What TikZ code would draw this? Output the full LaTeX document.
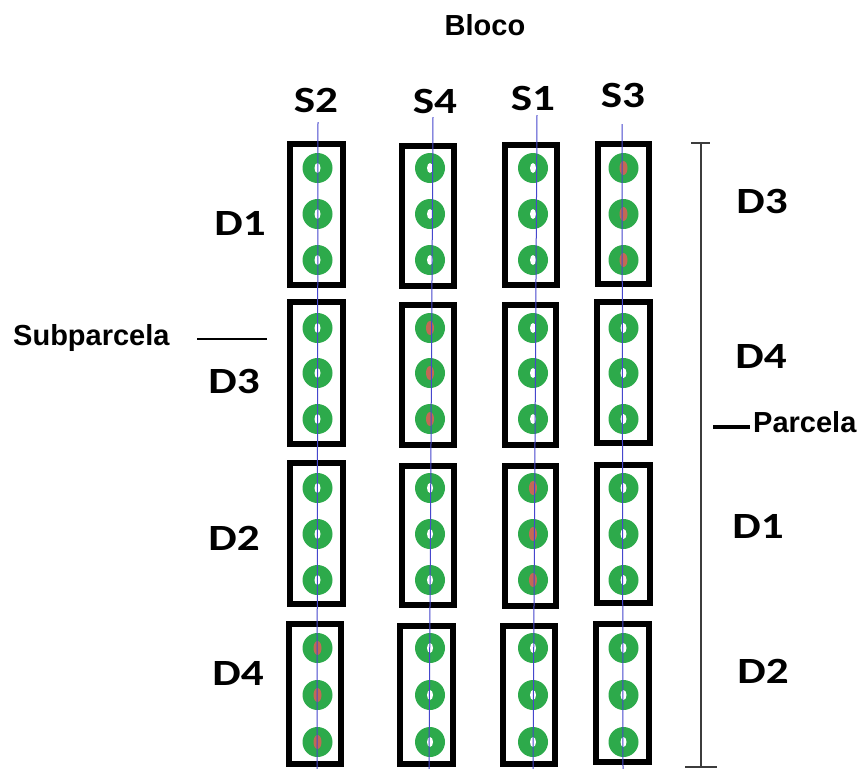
\documentclass[tikz,border=0pt]{standalone}
\usepackage{fontspec}
\setmainfont{Liberation Sans}
\newfontfamily\labfont{Carlito}
\definecolor{plantgreen}{RGB}{45,170,75}
\definecolor{plantred}{RGB}{195,105,85}
\definecolor{rowblue}{RGB}{70,70,205}
\definecolor{bracketgray}{RGB}{60,60,60}
\tikzset{
  pbox/.style={draw=black, line width=6pt, inner sep=0pt, fill=white},
  ringplant/.style={circle, fill=plantgreen, minimum size=30pt, inner sep=0pt,
    path picture={\fill[white] (path picture bounding box.center) ellipse (3pt and 5pt);}},
  redplant/.style={circle, fill=plantgreen, minimum size=30pt, inner sep=0pt,
    path picture={\fill[plantred] (path picture bounding box.center) ellipse (4pt and 7pt);}},
  rowline/.style={draw=rowblue, line width=1pt},
  dlabel/.style={font=\labfont\bfseries\fontsize{37}{40}\selectfont, anchor=base, xscale=1.22, inner sep=0pt},
  wlabel/.style={font=\bfseries\fontsize{29}{32}\selectfont, inner sep=0pt},
  bracket/.style={draw=bracketgray, line width=2pt}
}
\newcommand{\plotbox}[5]{%
  \pgfmathsetmacro\pbcx{(#2+#4)/2}\pgfmathsetmacro\pbcy{(#3+#5)/2}%
  \pgfmathsetmacro\pbw{#4-#2-6}\pgfmathsetmacro\pbh{#5-#3-6}%
  \node[pbox, minimum width=\pbw pt, minimum height=\pbh pt] (#1) at (\pbcx,\pbcy) {};}
\begin{document}
\begin{tikzpicture}[x=1pt, y=-1pt]
\useasboundingbox[fill=white] (0,0) rectangle (863,769);
% plot boxes
\plotbox{b1a}{287}{141}{346}{288}
\plotbox{b1b}{399}{143}{457}{289}
\plotbox{b1c}{502}{142}{560}{288}
\plotbox{b1d}{595}{141}{652}{287}
\plotbox{b2a}{287}{299}{346}{447}
\plotbox{b2b}{399}{302}{457}{448}
\plotbox{b2c}{502}{302}{559}{448}
\plotbox{b2d}{594}{299}{653}{446}
\plotbox{b3a}{287}{460}{346}{607}
\plotbox{b3b}{399}{463}{457}{608}
\plotbox{b3c}{502}{463}{559}{609}
\plotbox{b3d}{594}{462}{653}{606}
\plotbox{b4a}{286}{621}{344}{767}
\plotbox{b4b}{397}{623}{456}{767}
\plotbox{b4c}{500}{623}{558}{767}
\plotbox{b4d}{593}{621}{652}{765}
% plants row 1
\foreach \yy [count=\k] in {168,214,260}{
  \node[ringplant] (p1a\k) at (317.5,\yy) {};
  \node[ringplant] (p1b\k) at (430,\yy) {};
  \node[ringplant] (p1c\k) at (533,\yy) {};
  \node[redplant]  (p1d\k) at (623.5,\yy) {};
}
% plants row 2
\foreach \yy [count=\k] in {328,373,419}{
  \node[ringplant] (p2a\k) at (317.5,\yy) {};
  \node[redplant]  (p2b\k) at (430,\yy) {};
  \node[ringplant] (p2c\k) at (533,\yy) {};
  \node[ringplant] (p2d\k) at (623.5,\yy) {};
}
% plants row 3
\foreach \yy [count=\k] in {488,534,580}{
  \node[ringplant] (p3a\k) at (317.5,\yy) {};
  \node[ringplant] (p3b\k) at (430,\yy) {};
  \node[redplant]  (p3c\k) at (533,\yy) {};
  \node[ringplant] (p3d\k) at (623.5,\yy) {};
}
% plants row 4
\foreach \yy [count=\k] in {648,695,742}{
  \node[redplant]  (p4a\k) at (317.5,\yy) {};
  \node[ringplant] (p4b\k) at (430,\yy) {};
  \node[ringplant] (p4c\k) at (533,\yy) {};
  \node[ringplant] (p4d\k) at (623.5,\yy) {};
}
% row lines
\coordinate (la0) at (318,122);  \coordinate (la1) at (317,769);
\coordinate (lb0) at (433,117);  \coordinate (lb1) at (429,769);
\coordinate (lc0) at (537,115);  \coordinate (lc1) at (533,769);
\coordinate (ld0) at (622,124);  \coordinate (ld1) at (623,769);
\draw[rowline] (la0) -- (la1);
\draw[rowline] (lb0) -- (lb1);
\draw[rowline] (lc0) -- (lc1);
\draw[rowline] (ld0) -- (ld1);
% titles
\node[wlabel, anchor=base] (bloco) at (485,35) {Bloco};
\node[dlabel] (s2) at (316,112) {S2};
\node[dlabel] (s4) at (435,113) {S4};
\node[dlabel] (s1) at (533,110) {S1};
\node[dlabel] (s3) at (623,107) {S3};
% left D labels
\node[dlabel] (ld1lab) at (240,235) {D1};
\node[dlabel] (ld3lab) at (234,393) {D3};
\node[dlabel] (ld2lab) at (234,550) {D2};
\node[dlabel] (ld4lab) at (238,685) {D4};
% right D labels
\node[dlabel] (rd3lab) at (762,213) {D3};
\node[dlabel] (rd4lab) at (761,368) {D4};
\node[dlabel] (rd1lab) at (758,538) {D1};
\node[dlabel] (rd2lab) at (763,683) {D2};
% Subparcela
\node[wlabel, anchor=base west] (subp) at (13,345) {Subparcela};
\coordinate (sp0) at (197,339); \coordinate (sp1) at (267,339);
\draw[line width=1.5pt] (sp0) -- (sp1);
% bracket
\coordinate (bt) at (701,143); \coordinate (bb) at (701,767);
\coordinate (btl) at (691,143); \coordinate (btr) at (710,143);
\coordinate (bbl) at (685,767); \coordinate (bbr) at (717,767);
\draw[bracket] (bt) -- (bb);
\draw[bracket] (btl) -- (btr);
\draw[bracket] (bbl) -- (bbr);
% Parcela
\node[wlabel, anchor=base west] (parc) at (753,432) {Parcela};
\coordinate (pc0) at (713,427); \coordinate (pc1) at (750,427);
\draw[line width=4pt] (pc0) -- (pc1);
\end{tikzpicture}
\end{document}
